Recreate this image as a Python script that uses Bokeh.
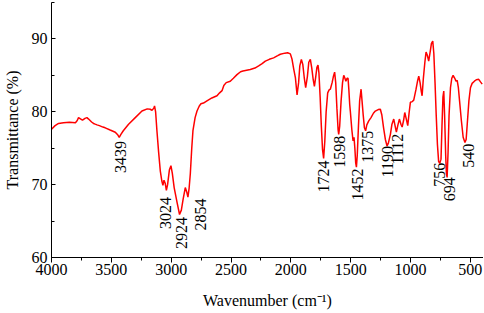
import numpy as np
from bokeh.plotting import figure
from bokeh.models import Range1d, SingleIntervalTicker, ColumnDataSource
from bokeh.core.properties import value
from bokeh.embed import file_html
from bokeh.resources import INLINE

# ---- data ----
wavenumber = [4000, 3970, 3941, 3900, 3850, 3800, 3785, 3774, 3755, 3741, 3720, 3704, 3690, 3665,
              3649, 3635, 3620, 3600, 3570, 3551, 3510, 3467, 3445, 3434, 3420, 3400, 3356, 3300,
              3244, 3200, 3175, 3160, 3145, 3139, 3130, 3119, 3105, 3091, 3078, 3069, 3060, 3050,
              3040, 3030, 3015, 3002, 2990, 2975, 2950, 2930, 2915, 2900, 2882, 2870, 2860, 2850,
              2840, 2828, 2818, 2800, 2784, 2765, 2751, 2730, 2701, 2660, 2617, 2595, 2575, 2560,
              2540, 2506, 2480, 2450, 2420, 2400, 2339, 2300, 2269, 2240, 2213, 2180, 2144, 2110,
              2088, 2050, 2027, 2004, 1990, 1975, 1962, 1948, 1935, 1925, 1912, 1900, 1888, 1876,
              1862, 1850, 1837, 1825, 1813, 1803, 1792, 1782, 1773, 1765, 1755, 1745, 1735, 1726,
              1716, 1705, 1692, 1680, 1670, 1655, 1645, 1634, 1625, 1615, 1605, 1600, 1592, 1580,
              1568, 1558, 1548, 1540, 1530, 1522, 1515, 1508, 1503, 1490, 1480, 1472, 1465, 1458,
              1452, 1445, 1435, 1425, 1413, 1405, 1395, 1385, 1375, 1365, 1349, 1330, 1310, 1294,
              1270, 1252, 1240, 1225, 1210, 1196, 1185, 1168, 1155, 1140, 1128, 1118, 1105, 1093,
              1080, 1070, 1058, 1048, 1035, 1023, 1012, 1001, 985, 973, 955, 940, 931, 920, 910,
              903, 893, 880, 870, 860, 848, 835, 825, 814, 805, 795, 785, 775, 765, 756, 745, 737,
              729, 722, 715, 706, 700, 694, 686, 678, 666, 655, 644, 630, 620, 610, 600, 590, 575,
              560, 545, 535, 525, 512, 499, 485, 466, 450, 430, 415, 401]
transmittance = [77.6, 78.1, 78.4, 78.5, 78.55, 78.5, 78.8, 79.2, 79.0, 78.85, 79.1, 79.2, 79.0, 78.6,
                 78.4, 78.3, 78.2, 78.1, 77.9, 77.8, 77.5, 77.2, 76.8, 76.5, 76.9, 77.4, 78.3, 79.2,
                 80.1, 80.4, 80.35, 80.2, 80.5, 80.8, 80.0, 77.4, 74.5, 71.9, 70.5, 69.9, 70.6, 70.2,
                 69.2, 70.0, 72.0, 72.6, 71.5, 69.6, 67.5, 65.9, 66.5, 68.0, 69.6, 69.0, 68.3, 69.5,
                 71.5, 75.0, 77.4, 79.2, 80.1, 80.8, 81.1, 81.2, 81.5, 81.9, 82.2, 82.6, 82.9, 83.6,
                 84.0, 84.2, 84.6, 85.1, 85.5, 85.6, 85.8, 86.0, 86.3, 86.6, 86.95, 87.2, 87.4, 87.7,
                 87.9, 88.05, 88.1, 87.95, 87.2, 85.8, 84.7, 82.3, 84.0, 86.3, 87.2, 86.5, 84.7, 83.3,
                 84.8, 86.8, 87.2, 86.0, 84.4, 83.5, 84.8, 86.1, 86.4, 85.3, 82.0, 78.0, 74.8, 73.6,
                 76.0, 80.0, 82.6, 83.0, 83.1, 84.0, 84.8, 85.45, 84.0, 80.5, 77.5, 76.9, 78.0, 81.5,
                 84.0, 85.0, 84.6, 84.2, 84.6, 84.6, 83.0, 81.0, 80.1, 77.5, 76.0, 76.5, 75.0, 73.0,
                 72.4, 74.0, 78.0, 81.5, 83.1, 81.5, 79.5, 77.8, 77.4, 78.2, 78.75, 79.2, 79.8, 80.1,
                 80.3, 80.35, 79.6, 77.8, 76.2, 75.3, 75.7, 76.9, 78.3, 79.0, 78.0, 77.2, 78.2, 79.0,
                 78.3, 77.9, 78.8, 79.9, 79.0, 78.1, 79.8, 81.3, 81.4, 81.6, 83.0, 84.3, 84.9, 84.0, 82.8,
                 82.2, 84.5, 86.8, 88.2, 87.8, 86.95, 88.3, 89.4, 89.7, 88.0, 84.0, 79.5, 75.5, 73.2, 72.9, 73.5, 78.0,
                 82.0, 82.85, 79.5, 74.0, 71.5, 71.0, 74.5, 79.5, 83.3, 84.6, 85.0, 84.6, 84.2, 84.3, 83.3, 81.5, 78.8,
                 76.5, 75.8, 76.2, 78.5, 81.5, 83.3, 83.9, 84.2, 84.4, 84.45, 84.1, 83.8]

peak_labels = ["3439", "3024", "2924", "2854", "1724", "1598", "1452", "1375", "1190", "1112", "756", "694", "540"]
peak_wavenumber = [3439, 3024, 2924, 2854, 1724, 1598, 1452, 1375, 1190, 1112, 756, 694, 540]
peak_label_T = [76.0, 68.3, 65.55, 68.1, 73.3, 76.7, 72.2, 77.4, 75.3, 77.0, 73.0, 71.0, 75.6]

# styling offsets (pixels) for the peak labels
label_dx = [1.5, -3, 1.5, 11.5, 0, 1, 1, 2, 0, 0.5, 0, 2, 2.5]

FONT = "Liberation Serif"

p = figure(frame_width=432, frame_height=255, output_backend="svg", toolbar_location=None,
           x_range=Range1d(4000, 390), y_range=Range1d(60, 95),
           min_border_left=51, min_border_right=0, min_border_top=2, min_border_bottom=54)
p.outline_line_color = None
p.grid.visible = False
p.background_fill_color = "white"
p.border_fill_color = "white"

p.line(wavenumber, transmittance, line_color="#ff0000", line_width=1.5)

src = ColumnDataSource(dict(x=peak_wavenumber, y=peak_label_T, t=peak_labels, dx=label_dx))
p.text(x="x", y="y", text="t", x_offset="dx", source=src, angle=np.pi / 2,
       text_align="right", text_baseline="middle",
       text_font=value(FONT), text_font_size="16px", text_color="black")

xa = p.xaxis[0]
xa.ticker = SingleIntervalTicker(interval=500, num_minor_ticks=2)
xa.axis_label = "Wavenumber (cm\u207b\u00b9)"
xa.major_tick_in = 0
xa.major_tick_out = 5
xa.minor_tick_in = 0
xa.minor_tick_out = 3
xa.major_label_standoff = 1

ya = p.yaxis[0]
ya.ticker = SingleIntervalTicker(interval=10, num_minor_ticks=2)
ya.axis_label = "Transmittance (%)"
ya.major_tick_in = 4
ya.major_tick_out = 0
ya.minor_tick_in = 3
ya.minor_tick_out = 0
ya.major_label_standoff = 4
ya.axis_label_standoff = 8

for ax in (xa, ya):
    ax.axis_label_text_font = FONT
    ax.axis_label_text_font_style = "normal"
    ax.axis_label_text_font_size = "16px"
    ax.axis_label_text_color = "black"
    ax.major_label_text_font = FONT
    ax.major_label_text_font_size = "16px"
    ax.major_label_text_color = "black"
    ax.axis_line_color = "black"
    ax.major_tick_line_color = "black"
    ax.minor_tick_line_color = "black"
    ax.axis_line_width = 1

xa.axis_label_standoff = 14

open("out.html", "w").write(file_html(p, INLINE))
